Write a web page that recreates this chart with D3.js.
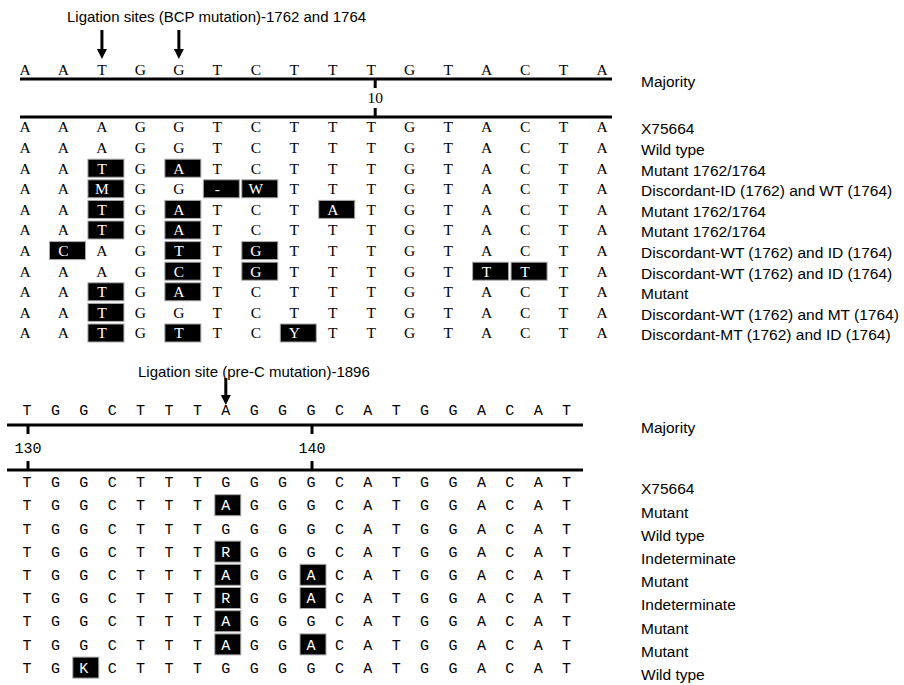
<!DOCTYPE html>
<html>
<head>
<meta charset="utf-8">
<script src="https://cdn.jsdelivr.net/npm/d3@7"></script>
<style>
  body { margin: 0; background: #fff; }
  svg { display: block; }
</style>
</head>
<body>
<div id="chart"></div>
<script>
// --- top panel (BCP region), positions 1..16
var topMajority = "AATGGTCTTTGTACTA";
var topNames = ["X75664", "Wild type", "Mutant 1762/1764",
    "Discordant-ID (1762) and WT (1764)", "Mutant 1762/1764", "Mutant 1762/1764",
    "Discordant-WT (1762) and ID (1764)", "Discordant-WT (1762) and ID (1764)",
    "Mutant", "Discordant-WT (1762) and MT (1764)", "Discordant-MT (1762) and ID (1764)"];
var topSeqs = ["AAAGGTCTTTGTACTA", "AAAGGTCTTTGTACTA", "AATGATCTTTGTACTA",
    "AAMGG-WTTTGTACTA", "AATGATCTATGTACTA", "AATGATCTTTGTACTA",
    "ACAGTTGTTTGTACTA", "AAAGCTGTTTGTTTTA", "AATGATCTTTGTACTA",
    "AATGGTCTTTGTACTA", "AATGTTCYTTGTACTA"];
// highlighted (black box) positions for each row
var topMarks = [[], [], [3, 5], [3, 6, 7], [3, 5, 9], [3, 5], [2, 5, 7], [5, 7, 13, 14], [3, 5], [3], [3, 5, 8]];
var topTicks = [10];
var topArrows = [3, 5];
var topTitle = "Ligation sites (BCP mutation)-1762 and 1764";

// --- bottom panel (pre-C region), positions 130..149
var botMajority = "TGGCTTTAGGGCATGGACAT";
var botNames = ["X75664", "Mutant", "Wild type", "Indeterminate", "Mutant",
    "Indeterminate", "Mutant", "Mutant", "Wild type"];
var botSeqs = ["TGGCTTTGGGGCATGGACAT", "TGGCTTTAGGGCATGGACAT", "TGGCTTTGGGGCATGGACAT",
    "TGGCTTTRGGGCATGGACAT", "TGGCTTTAGGACATGGACAT", "TGGCTTTRGGACATGGACAT",
    "TGGCTTTAGGGCATGGACAT", "TGGCTTTAGGACATGGACAT", "TGKCTTTGGGGCATGGACAT"];
var botMarks = [[], [137], [], [137], [137, 140], [137, 140], [137], [137, 140], [132]];
var botTicks = [130, 140];
var botArrows = [137];
var botTitle = "Ligation site (pre-C mutation)-1896";

var W = 904, H = 685;
var svg = d3.select("#chart").append("svg").attr("width", W).attr("height", H);

var labelFont = "'Liberation Sans', Arial, Helvetica, sans-serif";

function drawPanel(cfg) {
    var g = svg.append("g");
    var x = cfg.x, y = cfg.y;

    // title and arrows
    g.append("text").attr("x", cfg.titleX).attr("y", cfg.titleY).attr("dy", "0.35em")
        .style("font-family", labelFont).style("font-size", "15px").text(cfg.title);

    cfg.arrows.forEach(function(p) {
        var ax = x(p);
        g.append("line").attr("x1", ax).attr("x2", ax)
            .attr("y1", cfg.arrowTop).attr("y2", cfg.arrowTip - 8)
            .attr("stroke", "#000").attr("stroke-width", 3);
        g.append("path")
            .attr("d", "M" + (ax - 5) + "," + (cfg.arrowTip - 10) + "L" + (ax + 5) + "," + (cfg.arrowTip - 10) + "L" + ax + "," + cfg.arrowTip + "Z")
            .attr("fill", "#000");
    });

    // majority row
    var posList = d3.range(cfg.start, cfg.start + cfg.majority.length);
    g.selectAll(null).data(posList).enter().append("text")
        .attr("x", function(d) { return x(d); })
        .attr("y", cfg.majY).attr("dy", "0.35em")
        .attr("text-anchor", "middle")
        .style("font-family", cfg.seqFont).style("font-size", cfg.seqSize)
        .text(function(d) { return cfg.majority[d - cfg.start]; });

    g.append("text").attr("x", 641).attr("y", cfg.majLabelY).attr("dy", "0.35em")
        .style("font-family", labelFont).style("font-size", "15.5px").text("Majority");

    // ruler lines
    [cfg.line1, cfg.line2].forEach(function(ly) {
        g.append("line").attr("x1", cfg.lineX[0]).attr("x2", cfg.lineX[1])
            .attr("y1", ly).attr("y2", ly).attr("stroke", "#000").attr("stroke-width", 3);
    });
    cfg.ticks.forEach(function(t) {
        var tx = x(t) + cfg.tickOff;
        g.append("line").attr("x1", tx).attr("x2", tx).attr("y1", cfg.line1).attr("y2", cfg.line1 + 9)
            .attr("stroke", "#000").attr("stroke-width", 3);
        g.append("line").attr("x1", tx).attr("x2", tx).attr("y1", cfg.line2 - 9).attr("y2", cfg.line2)
            .attr("stroke", "#000").attr("stroke-width", 3);
        g.append("text").attr("x", tx).attr("y", (cfg.line1 + cfg.line2) / 2).attr("dy", "0.35em")
            .attr("text-anchor", "middle")
            .style("font-family", cfg.seqFont).style("font-size", cfg.seqSize).text(t);
    });

    // sequence rows
    cfg.seqs.forEach(function(s, i) {
        var ry = y(i);
        var marks = cfg.marks[i];
        var row = g.append("g");
        row.selectAll("rect").data(marks).enter().append("rect")
            .attr("x", function(d) { return x(d) + cfg.boxOff - cfg.boxW / 2; })
            .attr("y", ry - cfg.boxH / 2)
            .attr("width", cfg.boxW).attr("height", cfg.boxH)
            .attr("fill", "#000").attr("stroke", "#aaa").attr("stroke-width", 1);
        row.selectAll("text.base").data(posList).enter().append("text")
            .attr("class", "base")
            .attr("x", function(d) { return x(d); })
            .attr("y", ry).attr("dy", "0.35em")
            .attr("text-anchor", "middle")
            .attr("fill", function(d) { return marks.indexOf(d) > -1 ? "#fff" : "#000"; })
            .style("font-family", cfg.seqFont).style("font-size", cfg.seqSize)
            .text(function(d) { return s[d - cfg.start]; });
        row.append("text").attr("x", 641).attr("y", ry + cfg.labelOff).attr("dy", "0.35em")
            .style("font-family", labelFont).style("font-size", "15.5px").text(cfg.names[i]);
    });
}

drawPanel({
    start: 1, majority: topMajority, seqs: topSeqs, names: topNames, marks: topMarks,
    ticks: topTicks, arrows: topArrows, title: topTitle,
    x: d3.scaleLinear().domain([1, 16]).range([25, 602]),
    y: d3.scaleLinear().domain([0, 10]).range([127, 333]),
    seqFont: "'Liberation Serif', 'Times New Roman', serif", seqSize: "15.5px",
    titleX: 67, titleY: 17, arrowTop: 30, arrowTip: 59,
    majY: 70, majLabelY: 82, line1: 79, line2: 117, lineX: [20, 612], tickOff: 4,
    boxW: 36, boxH: 18, boxOff: 4, labelOff: 2
});

drawPanel({
    start: 130, majority: botMajority, seqs: botSeqs, names: botNames, marks: botMarks,
    ticks: botTicks, arrows: botArrows, title: botTitle,
    x: d3.scaleLinear().domain([130, 149]).range([27, 566.6]),
    y: d3.scaleLinear().domain([0, 8]).range([482, 667.6]),
    seqFont: "'Liberation Mono', 'Courier New', monospace", seqSize: "15px",
    titleX: 138, titleY: 372, arrowTop: 378, arrowTip: 405,
    majY: 410, majLabelY: 428, line1: 425, line2: 470, lineX: [7, 583], tickOff: 1,
    boxW: 26, boxH: 21, boxOff: 2, labelOff: 7
});
</script>
</body>
</html>
